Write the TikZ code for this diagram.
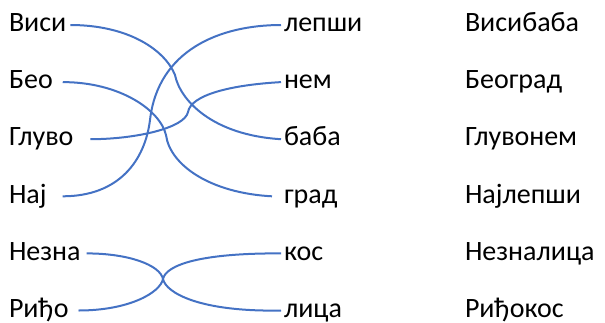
\documentclass[tikz,border=0pt]{standalone}
\usepackage{fontspec}
\setmainfont{Carlito}
\definecolor{wordblue}{HTML}{4472C4}
\begin{document}
\begin{tikzpicture}[x=1bp,y=-1bp,
  word/.style={anchor=base west,inner sep=0pt,outer sep=0pt,text height=13.4bp,text depth=0pt,font=\fontsize{28bp}{32bp}\selectfont},
  link/.style={draw=wordblue,line width=2bp}]
\useasboundingbox (0,0) rectangle (605,322);
% left column
\node[word] (visi)  at (9,31.7)  {Виси};
\node[word] (beo)   at (9,88.8)  {Бео};
\node[word] (gluvo) at (9,145.9) {Глуво};
\node[word] (naj)   at (9,203)   {Нај};
\node[word] (nezna) at (9,260.1) {Незна};
\node[word] (ridjo) at (9,317.2) {Риђо};
% middle column
\node[word] (lepsi) at (284,31.7)  {лепши};
\node[word] (nem)   at (284,88.8)  {нем};
\node[word] (baba)  at (284,145.9) {баба};
\node[word] (grad)  at (284,203)   {град};
\node[word] (kos)   at (284,260.1) {кос};
\node[word] (lica)  at (284,317.2) {лица};
% right column
\node[word] (r1) at (465,31.7)  {Висибаба};
\node[word] (r2) at (465,88.8)  {Београд};
\node[word] (r3) at (465,145.9) {Глувонем};
\node[word] (r4) at (465,203)   {Најлепши};
\node[word] (r5) at (465,260.1) {Незналица};
\node[word] (r6) at (465,317.2) {Риђокос};
% connectors
\draw[link] ([xshift=4bp]visi.east) .. controls +(58,0) and (165,50) .. (175,75)
  .. controls (180,100) and (212,135) .. ([xshift=-3bp]baba.west);
\draw[link] ([xshift=10bp]beo.east) .. controls +(57,0) and (160,110) .. (166,135)
  .. controls (170,165) and (210,193) .. ([xshift=-12bp]grad.west);
\draw[link] ([xshift=17bp]gluvo.east) .. controls +(45,0) and (185,128) .. (188,112)
  .. controls (191,95) and (230,85) .. ([xshift=-3bp]nem.west);
\draw[link] ([xshift=16bp]naj.east) .. controls +(57,0) and (145,160) .. (150,120)
  .. controls (158,50) and (220,25) .. ([xshift=-3bp]lepsi.west);
\draw[link] ([xshift=6bp]nezna.east) .. controls +(42,0) and (160,265) .. (163,279)
  .. controls (166,265) and (200,253) .. ([xshift=-3bp]kos.west);
\draw[link] ([xshift=10bp]ridjo.east) .. controls +(50,0) and (160,293) .. (163,279)
  .. controls (166,293) and (200,312) .. ([xshift=-3bp]lica.west);
\end{tikzpicture}
\end{document}
